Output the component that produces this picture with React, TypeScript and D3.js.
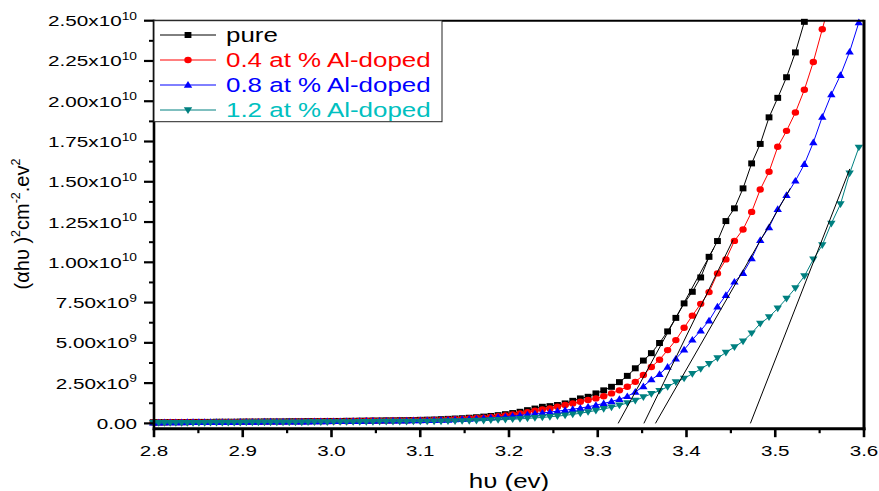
import React from 'react';
import * as d3 from 'd3';

// photon energy hν (eV), one point per nm from 443 nm down to 345 nm
const energy = [
  2.7991, 2.8054, 2.8118, 2.8182, 2.8246, 2.8311, 2.8375, 2.844, 2.8506, 2.8571,
  2.8637, 2.8704, 2.877, 2.8837, 2.8904, 2.8972, 2.904, 2.9108, 2.9176, 2.9245,
  2.9314, 2.9384, 2.9454, 2.9524, 2.9594, 2.9665, 2.9736, 2.9808, 2.988, 2.9952,
  3.0024, 3.0097, 3.017, 3.0244, 3.0318, 3.0392, 3.0467, 3.0542, 3.0617, 3.0693,
  3.0769, 3.0846, 3.0923, 3.1, 3.1078, 3.1156, 3.1234, 3.1313, 3.1392, 3.1472,
  3.1552, 3.1633, 3.1714, 3.1795, 3.1877, 3.1959, 3.2041, 3.2124, 3.2208, 3.2292,
  3.2376, 3.2461, 3.2546, 3.2632, 3.2718, 3.2804, 3.2891, 3.2979, 3.3067, 3.3155,
  3.3244, 3.3333, 3.3423, 3.3514, 3.3604, 3.3696, 3.3787, 3.388, 3.3973, 3.4066,
  3.416, 3.4254, 3.4349, 3.4444, 3.454, 3.4637, 3.4734, 3.4831, 3.493, 3.5028,
  3.5127, 3.5227, 3.5328, 3.5429, 3.553, 3.5632, 3.5735, 3.5838, 3.5942,
];

// (αhυ)² in units of 1e9
const pure = [
  0.07, 0.07, 0.07, 0.08, 0.08, 0.08, 0.08, 0.09, 0.09, 0.09,
  0.09, 0.1, 0.1, 0.1, 0.1, 0.11, 0.11, 0.11, 0.11, 0.12,
  0.12, 0.12, 0.12, 0.13, 0.13, 0.13, 0.14, 0.14, 0.14, 0.15,
  0.15, 0.15, 0.16, 0.16, 0.17, 0.17, 0.18, 0.18, 0.19, 0.19,
  0.2, 0.2, 0.21, 0.22, 0.23, 0.24, 0.26, 0.28, 0.3, 0.32,
  0.35, 0.38, 0.42, 0.46, 0.51, 0.57, 0.64, 0.72, 0.82, 0.92,
  1.03, 1.07, 1.14, 1.24, 1.4, 1.55, 1.65, 1.86, 2.05, 2.27,
  2.56, 2.95, 3.42, 3.9, 4.36, 4.99, 5.71, 6.55, 7.45, 8.17,
  9.06, 10.34, 11.32, 12.56, 13.35, 14.59, 16.14, 17.35, 19.0, 20.21,
  21.49, 23.03, 24.93, 26.6,
];
const al04 = [
  0.06, 0.06, 0.06, 0.07, 0.07, 0.07, 0.07, 0.08, 0.08, 0.08,
  0.08, 0.08, 0.09, 0.09, 0.09, 0.09, 0.1, 0.1, 0.1, 0.1,
  0.11, 0.11, 0.11, 0.11, 0.12, 0.12, 0.12, 0.13, 0.13, 0.13,
  0.13, 0.14, 0.14, 0.15, 0.15, 0.16, 0.16, 0.17, 0.17, 0.18,
  0.18, 0.18, 0.19, 0.19, 0.2, 0.21, 0.22, 0.24, 0.26, 0.28,
  0.3, 0.33, 0.36, 0.4, 0.44, 0.49, 0.55, 0.62, 0.7, 0.78,
  0.86, 0.93, 1.03, 1.14, 1.24, 1.34, 1.45, 1.55, 1.68, 1.86,
  2.05, 2.27, 2.58, 3.0, 3.5, 3.95, 4.55, 5.17, 5.94, 6.69,
  7.42, 8.15, 9.31, 10.18, 11.33, 12.04, 13.13, 14.52, 15.62, 17.17,
  18.16, 19.3, 20.71, 22.44, 24.47, 26.5,
];
const al08 = [
  0.05, 0.05, 0.06, 0.06, 0.06, 0.06, 0.07, 0.07, 0.07, 0.07,
  0.07, 0.08, 0.08, 0.08, 0.08, 0.09, 0.09, 0.09, 0.09, 0.1,
  0.1, 0.1, 0.1, 0.11, 0.11, 0.11, 0.11, 0.12, 0.12, 0.12,
  0.13, 0.13, 0.13, 0.14, 0.14, 0.15, 0.15, 0.16, 0.16, 0.17,
  0.17, 0.17, 0.18, 0.18, 0.19, 0.2, 0.21, 0.22, 0.24, 0.26,
  0.28, 0.3, 0.32, 0.35, 0.38, 0.42, 0.46, 0.5, 0.55, 0.6,
  0.65, 0.7, 0.76, 0.82, 0.88, 0.95, 1.03, 1.13, 1.24, 1.36,
  1.5, 1.68, 1.95, 2.3, 2.72, 3.06, 3.51, 4.01, 4.57, 5.19,
  5.76, 6.38, 7.24, 7.96, 8.79, 9.33, 10.24, 11.38, 12.17, 13.3,
  14.17, 15.06, 16.09, 17.44, 19.03, 20.42, 21.62, 23.07, 24.89,
];
const al12 = [
  0.03, 0.03, 0.03, 0.03, 0.04, 0.04, 0.04, 0.04, 0.04, 0.04,
  0.05, 0.05, 0.05, 0.05, 0.05, 0.05, 0.06, 0.06, 0.06, 0.06,
  0.06, 0.07, 0.07, 0.07, 0.07, 0.07, 0.08, 0.08, 0.08, 0.08,
  0.09, 0.09, 0.09, 0.09, 0.1, 0.1, 0.1, 0.11, 0.11, 0.11,
  0.11, 0.11, 0.12, 0.12, 0.12, 0.13, 0.13, 0.14, 0.14, 0.15,
  0.16, 0.17, 0.18, 0.2, 0.22, 0.24, 0.26, 0.28, 0.31, 0.34,
  0.37, 0.41, 0.45, 0.5, 0.56, 0.63, 0.71, 0.8, 0.9, 1.0,
  1.12, 1.27, 1.42, 1.63, 1.83, 2.03, 2.27, 2.56, 2.79, 3.08,
  3.38, 3.7, 4.05, 4.4, 4.74, 5.1, 5.6, 6.2, 6.6, 7.14,
  7.75, 8.4, 9.14, 10.18, 11.07, 12.41, 13.61, 15.52, 17.13,
];

const seriesNames = ['pure', '0.4 at % Al-doped', '0.8 at % Al-doped', '1.2 at % Al-doped'];
const seriesColors = ['#000000', '#ff0000', '#0000ff', '#008080'];
const legendTextColors = ['#000000', '#ff0000', '#0000ff', '#00c0c0'];
const seriesShapes = ['square', 'circle', 'up', 'down'];
const seriesValues = [pure, al04, al08, al12];

// linear extrapolation lines (band-gap fits): start at intercept, end point
const fitStartX = [3.323, 3.352, 3.365, 3.472];
const fitEndX = [3.431, 3.4525, 3.517, 3.584];
const fitEndY = [10.9, 11.4, 14.6, 15.8];

const xTicks = [2.8, 2.9, 3.0, 3.1, 3.2, 3.3, 3.4, 3.5, 3.6];
const xMinorTicks = [2.85, 2.95, 3.05, 3.15, 3.25, 3.35, 3.45, 3.55];
const yTicks = [0, 2.5, 5, 7.5, 10, 12.5, 15, 17.5, 20, 22.5, 25];
const yMinorTicks = [1.25, 3.75, 6.25, 8.75, 11.25, 13.75, 16.25, 18.75, 21.25, 23.75];

const FONT = "'Liberation Sans', Arial, sans-serif";
const SX = 1.33;

const x = d3.scaleLinear().domain([2.8, 3.6]).range([154, 864]);
const y = d3.scaleLinear().domain([-0.33, 25]).range([428.7, 20.7]);

const L = x(2.8), R = x(3.6), T = y(25), B = y(-0.33);

function Marker({ shape, cx, cy, color }: any) {
  if (shape === 'square') return <rect x={cx - 3.4} y={cy - 3} width={6.8} height={6} fill={color} />;
  if (shape === 'circle') return <ellipse cx={cx} cy={cy} rx={3.7} ry={3.2} fill={color} />;
  if (shape === 'up')
    return <polygon points={`${cx - 4.2},${cy + 2.8} ${cx + 4.2},${cy + 2.8} ${cx},${cy - 3.9}`} fill={color} />;
  return <polygon points={`${cx - 4.2},${cy - 2.8} ${cx + 4.2},${cy - 2.8} ${cx},${cy + 3.9}`} fill={color} />;
}

function SText({ x: tx, y: ty, anchor = 'start', size, color = '#000', sx = SX, children }: any) {
  return (
    <g transform={`translate(${tx},${ty}) scale(${sx},1)`}>
      <text x={0} y={0} textAnchor={anchor} fontSize={size} fill={color} fontFamily={FONT}>
        {children}
      </text>
    </g>
  );
}

function yLabel(v: number) {
  if (v === 0) return { m: '0.00', e: '' };
  if (v < 10) return { m: v.toFixed(2) + 'x10', e: '9' };
  return { m: (v / 10).toFixed(2) + 'x10', e: '10' };
}

export default function App() {
  const line = d3
    .line<[number, number]>()
    .x((d) => x(d[0]))
    .y((d) => y(d[1]));

  return (
    <svg width={879} height={491} style={{ position: 'absolute', left: 0, top: 0, background: '#fff' }}>
      <defs>
        <clipPath id="plotClip">
          <rect x={L} y={T} width={R - L} height={B - T} />
        </clipPath>
      </defs>
      <rect x={0} y={0} width={879} height={491} fill="#fff" />

      {/* series */}
      {seriesValues.map((vals, i) => {
        const pts: [number, number][] = vals.map((v, j) => [energy[j], v]);
        return (
          <g key={i}>
            <path d={line(pts) || ''} fill="none" stroke={seriesColors[i]} strokeWidth={1} clipPath="url(#plotClip)" />
            {pts
              .filter((p) => p[1] <= 25.3)
              .map((p, j) => (
                <Marker key={j} shape={seriesShapes[i]} cx={x(p[0])} cy={y(p[1])} color={seriesColors[i]} />
              ))}
          </g>
        );
      })}

      {/* fit lines */}
      {fitStartX.map((sx0, i) => (
        <line
          key={i}
          x1={x(sx0)}
          y1={y(0)}
          x2={x(fitEndX[i])}
          y2={y(fitEndY[i])}
          stroke="#000"
          strokeWidth={1}
        />
      ))}

      {/* frame */}
      <line x1={L} y1={T} x2={R} y2={T} stroke="#000" strokeWidth={2} />
      <line x1={R} y1={T - 1} x2={R} y2={B + 1.5} stroke="#000" strokeWidth={3} />
      <line x1={L} y1={T - 1} x2={L} y2={B + 1.5} stroke="#000" strokeWidth={2.6} />
      <line x1={L - 1.3} y1={B} x2={R + 1.5} y2={B} stroke="#000" strokeWidth={3} />

      {/* y ticks */}
      {yTicks.map((v) => (
        <line key={'yt' + v} x1={L - 10} x2={L} y1={y(v)} y2={y(v)} stroke="#000" strokeWidth={2.2} />
      ))}
      {yMinorTicks.map((v) => (
        <line key={'ym' + v} x1={L - 5} x2={L} y1={y(v)} y2={y(v)} stroke="#000" strokeWidth={2} />
      ))}
      {yTicks.map((v) => {
        const lab = yLabel(v);
        return (
          <g key={'yl' + v} transform={`translate(137,${y(v) + 5.5}) scale(1.38,1)`}>
            <text textAnchor="end" fontSize={15} fontFamily={FONT} fill="#000">
              {lab.m}
              {lab.e && (
                <tspan fontSize={10} dy={-6.5}>
                  {lab.e}
                </tspan>
              )}
            </text>
          </g>
        );
      })}

      {/* x ticks */}
      {xTicks.map((v) => (
        <line key={'xt' + v} x1={x(v)} x2={x(v)} y1={B} y2={B + 8.5} stroke="#000" strokeWidth={2.6} />
      ))}
      {xMinorTicks.map((v) => (
        <line key={'xm' + v} x1={x(v)} x2={x(v)} y1={B} y2={B + 4.5} stroke="#000" strokeWidth={2.2} />
      ))}
      {xTicks.map((v) => (
        <SText key={'xl' + v} x={x(v)} y={456} anchor="middle" size={15.5}>
          {v.toFixed(1)}
        </SText>
      ))}

      {/* axis titles */}
      <SText x={(L + R) / 2} y={488} anchor="middle" size={19.5}>
        hυ (ev)
      </SText>
      <g transform={`translate(28.5,224) rotate(-90)`}>
        <text textAnchor="middle" fontSize={20} fontFamily={FONT} fill="#000">
          (αhυ )
          <tspan fontSize={12.5} dy={-8.5}>2</tspan>
          <tspan dy={8.5}>cm</tspan>
          <tspan fontSize={12.5} dy={-8.5}>-2</tspan>
          <tspan dy={8.5}>.ev</tspan>
          <tspan fontSize={12.5} dy={-8.5}>2</tspan>
        </text>
      </g>

      {/* legend */}
      <rect x={L} y={T} width={288} height={101} fill="#fff" stroke="#222" strokeWidth={1} />
      {seriesNames.map((name, i) => {
        const cy = 35 + i * 25;
        return (
          <g key={'lg' + i}>
            <line x1={160} x2={216} y1={cy} y2={cy} stroke={seriesColors[i]} strokeWidth={1} />
            <Marker shape={seriesShapes[i]} cx={188} cy={cy} color={seriesColors[i]} />
            <SText x={226} y={cy + 6.5} size={19.5} color={legendTextColors[i]}>
              {name}
            </SText>
          </g>
        );
      })}
    </svg>
  );
}
